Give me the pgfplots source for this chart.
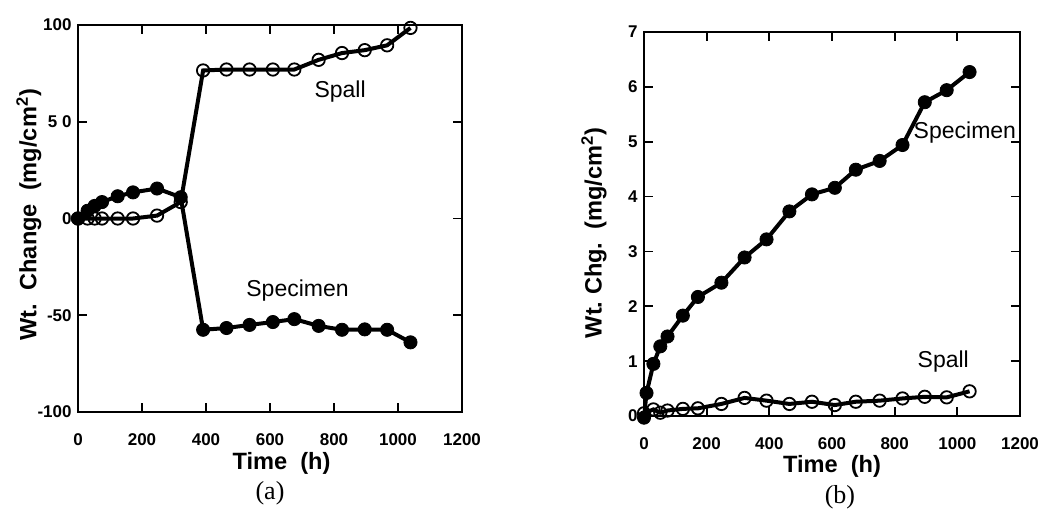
\documentclass[border=0pt]{standalone}
\usepackage{fontspec}
\setmainfont{Liberation Sans}
\newfontfamily\serifb{Liberation Serif}
\usepackage{pgfplots}
\pgfplotsset{compat=1.18}
\tikzset{lab/.style={font=\fontsize{11.8}{13}\selectfont\bfseries}}
\begin{document}
\begin{tikzpicture}[x=1pt,y=1pt]
\path[use as bounding box] (0,0) rectangle (529,255);
\pgfplotsset{
  every axis/.append style={
    scale only axis, anchor=south west, clip=false,
    axis line style={line width=1pt},
    tick style={line width=0.9pt, black},
    major tick length=4.5pt,
    tick align=inside,
    xtick pos=both, ytick pos=both,
    xmin=0, xmax=1200, xtick={0,200,...,1200},
    /pgf/number format/1000 sep={},
    /pgf/number format/assume math mode=true,
    tick label style={font=\fontsize{8.5}{10}\selectfont\bfseries},
    xticklabel style={anchor=north, inner sep=0pt, yshift=-10.5pt},
    yticklabel style={anchor=east, inner sep=0pt, xshift=-3pt},
  },
  spec/.style={black, line width=2pt, mark=*, mark size=3.3pt, mark options={line width=0.4pt, fill=black}},
  spall/.style={black, line width=2pt, mark=o, mark size=3.1pt, mark options={line width=0.9pt}},
}
% ---------- (a)
\begin{axis}[
  at={(39pt,49pt)}, width=192pt, height=193.5pt,
  ymin=-100, ymax=100,
  ytick={-100,-50,0,50,100},
  yticklabels={-100,-50,0,5 0,100},
  every axis x label/.style={at={(axis description cs:0.53,-0.132)}, anchor=center, lab},
  every axis y label/.style={at={(axis description cs:-0.128,0.51)}, anchor=center, rotate=90, lab},
  xlabel={Time\ \ (h)},
  ylabel={Wt.\ \ Change\ \ (mg/cm\textsuperscript{2})},
]
\addplot[spall] coordinates {
(0,0) (30,0) (52,0) (75,0) (124,0) (172,0) (247,1.5) (321,8.5)
(391,76.5) (464,77) (536,77) (609,77) (676,77) (752,82) (825,85.5) (896,87) (966,89.5) (1039,98.5)};
\addplot[spec] coordinates {
(0,0) (30,4) (52,6.5) (75,8.5) (124,11.5) (172,13.5) (247,15.5) (321,11)
(391,-57.5) (464,-56.6) (536,-55) (609,-53.5) (676,-52) (752,-55.5) (825,-57.5) (896,-57.3) (966,-57.5) (1039,-64)};
\node[font=\fontsize{11.5}{13}\selectfont] at (axis cs:819,65.6) {Spall};
\node[font=\fontsize{11.5}{13}\selectfont] at (axis cs:686,-37) {Specimen};
\node[font=\fontsize{13}{15}\selectfont\serifb] at (axis description cs:0.5,-0.209) {(a)};
\end{axis}
% ---------- (b)
\begin{axis}[
  at={(322pt,47pt)}, width=188pt, height=192pt,
  ymin=0, ymax=7,
  ytick={0,1,...,7},
  every axis x label/.style={at={(axis description cs:0.5,-0.130)}, anchor=center, lab},
  every axis y label/.style={at={(axis description cs:-0.133,0.477)}, anchor=center, rotate=90, lab},
  xlabel={Time\ \ (h)},
  ylabel={Wt.\ Chg.\ \ (mg/cm\textsuperscript{2})},
]
\addplot[spall] coordinates {
(0,0.05) (30,0.12) (52,0.06) (75,0.1) (124,0.13) (172,0.14) (247,0.22) (321,0.33)
(391,0.28) (464,0.22) (536,0.26) (609,0.2) (676,0.26) (752,0.28) (825,0.32) (896,0.35) (966,0.34) (1039,0.45)};
\addplot[spec] coordinates {
(0,-0.03) (8,0.42) (30,0.95) (52,1.27) (75,1.45) (124,1.83) (172,2.17) (247,2.43) (321,2.89)
(391,3.22) (464,3.73) (536,4.04) (609,4.16) (676,4.49) (752,4.65) (825,4.94) (896,5.72) (966,5.94) (1039,6.27)};
\node[font=\fontsize{11.5}{13}\selectfont] at (axis cs:1024,5.16) {Specimen};
\node[font=\fontsize{11.5}{13}\selectfont] at (axis cs:955,0.99) {Spall};
\node[font=\fontsize{13}{15}\selectfont\serifb] at (axis description cs:0.521,-0.211) {(b)};
\end{axis}
\end{tikzpicture}
\end{document}
